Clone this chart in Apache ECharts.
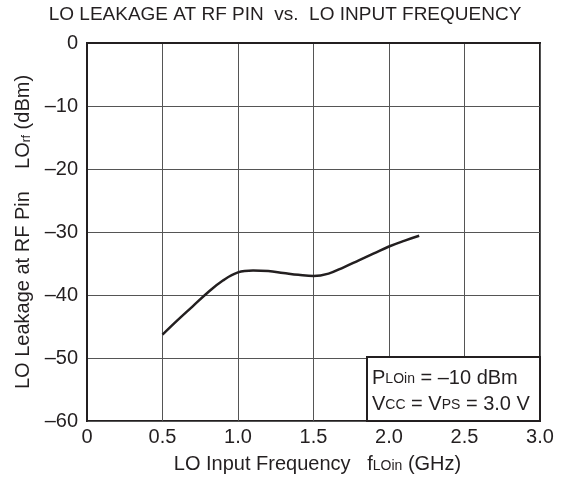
<!DOCTYPE html>
<html>
<head>
<meta charset="utf-8">
<script src="https://cdn.jsdelivr.net/npm/echarts@6/dist/echarts.min.js"></script>
<style>html,body{margin:0;padding:0;background:#fff}#c{width:580px;height:483px}</style>
</head>
<body>
<div id="c"></div>
<script>
const freqGHz = [0.5, 0.6, 0.7, 0.8, 0.9, 1.0, 1.1, 1.2, 1.3, 1.4, 1.5, 1.6, 1.7, 1.8, 1.9, 2.0, 2.1, 2.2];
const leakageDbm = [-46.3, -44.0, -41.8, -39.6, -37.7, -36.4, -36.1, -36.2, -36.5, -36.8, -37.0, -36.6, -35.6, -34.5, -33.4, -32.3, -31.4, -30.6];
const xTicks = [0, 0.5, 1.0, 1.5, 2.0, 2.5, 3.0];
const yTicks = [0, -10, -20, -30, -40, -50, -60];

const FONT = '"Liberation Sans", Arial, sans-serif';
const TXT = '#231f20';
const chart = echarts.init(document.getElementById('c'), null, {renderer: 'canvas'});
chart.setOption({
  animation: false,
  backgroundColor: '#ffffff',
  title: {
    text: 'LO LEAKAGE AT RF PIN  vs.  LO INPUT FREQUENCY',
    left: 285, top: 5, textAlign: 'center', padding: 0,
    textStyle: {fontFamily: FONT, fontSize: 19, fontWeight: 'normal', color: TXT}
  },
  graphic: [{
    type: 'rect', z: 10,
    shape: {x: 367, y: 357, width: 173, height: 64},
    style: {fill: '#ffffff', stroke: '#231f20', lineWidth: 2}
  }, {
    type: 'text', z: 11, x: 372, y: 362,
    style: {
      text: '{m|P}{s|LOin}{m| = –10 dBm}\n{m|V}{s|CC}{m| = V}{s|PS}{m| = 3.0 V}',
      rich: {
        m: {fontFamily: FONT, fontSize: 20, fill: TXT, lineHeight: 26, verticalAlign: 'bottom'},
        s: {fontFamily: FONT, fontSize: 14, fill: TXT, lineHeight: 26, verticalAlign: 'bottom', padding: [0, 0, 2, 0]}
      }
    }
  }],
  grid: {left: 87, top: 43, width: 453, height: 378, show: true, borderColor: '#231f20', borderWidth: 2, backgroundColor: 'transparent', containLabel: false, outerBoundsMode: 'none'},
  xAxis: {
    type: 'value', min: 0, max: 3, interval: 0.5,
    name: '{m|LO Input Frequency   f}{s|LOin}{m| (GHz)}',
    nameLocation: 'middle', nameGap: 31,
    nameTextStyle: {padding: [0, 0, 0, 8], rich: {
      m: {fontFamily: FONT, fontSize: 20, color: TXT, lineHeight: 22, verticalAlign: 'bottom'},
      s: {fontFamily: FONT, fontSize: 14, color: TXT, lineHeight: 22, verticalAlign: 'bottom', padding: [0, 0, 1, 0]}
    }},
    axisLine: {show: true, lineStyle: {color: '#231f20', width: 2}},
    axisTick: {show: false},
    axisLabel: {fontFamily: FONT, fontSize: 20, color: TXT, margin: 6,
      formatter: v => xTicks.includes(v) ? (v === 0 ? '0' : v.toFixed(1)) : ''},
    splitLine: {show: true, lineStyle: {color: '#555555', width: 1}}
  },
  yAxis: {
    type: 'value', min: -60, max: 0, interval: 10,
    name: '{m|LO Leakage at RF Pin    LO}{s|rf}{m| (dBm)}',
    nameLocation: 'middle', nameGap: 53, nameRotate: 90,
    nameTextStyle: {padding: [0, 0, 0, 0], rich: {
      m: {fontFamily: FONT, fontSize: 20, color: TXT, lineHeight: 22, verticalAlign: 'bottom'},
      s: {fontFamily: FONT, fontSize: 12, color: TXT, lineHeight: 22, verticalAlign: 'bottom', padding: [0, 0, 1, 0]}
    }},
    axisLine: {show: true, lineStyle: {color: '#231f20', width: 2}},
    axisTick: {show: false},
    axisLabel: {fontFamily: FONT, fontSize: 20, color: TXT, margin: 9,
      formatter: v => yTicks.includes(v) ? (v === 0 ? '0' : '–' + Math.abs(v)) : ''},
    splitLine: {show: true, lineStyle: {color: '#555555', width: 1}}
  },
  series: [{
    type: 'line',
    data: freqGHz.map((f, i) => [f, leakageDbm[i]]),
    smooth: 0.4,
    showSymbol: false,
    lineStyle: {color: '#231f20', width: 2.5},
    z: 3
  }]
});
</script>
</body>
</html>
